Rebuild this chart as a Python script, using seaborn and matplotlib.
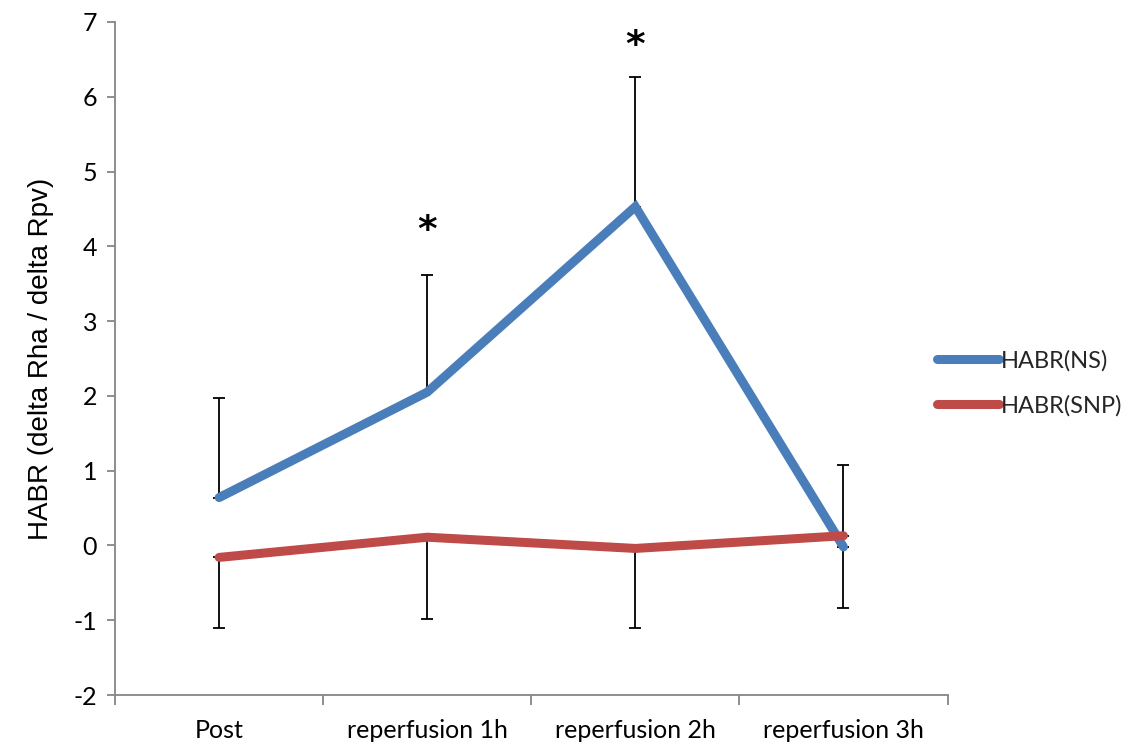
import pandas as pd
import seaborn as sns
import matplotlib.pyplot as plt
from matplotlib.ticker import FixedLocator

# data
times = ["Post", "reperfusion 1h", "reperfusion 2h", "reperfusion 3h"]
ns_mean = [0.64, 2.05, 4.53, -0.02]
ns_err = [1.33, 1.56, 1.73, 1.10]
snp_mean = [-0.16, 0.11, -0.04, 0.13]
snp_err = [0.94, 1.10, 1.06, 0.97]
star_pos = [1, 2]          # which time points get a *
star_y = [4.2, 6.68]

blue = "#4A7EBB"
red = "#BE4B48"
axis_grey = "#868686"

df = pd.DataFrame({
    "time": times * 2,
    "value": ns_mean + snp_mean,
    "series": ["HABR(NS)"] * 4 + ["HABR(SNP)"] * 4,
})

sns.set_style("white")
plt.rcParams["font.family"] = ["Lato", "DejaVu Sans"]
plt.rcParams["axes.unicode_minus"] = False

fig = plt.figure(figsize=(11.28, 7.47), dpi=100)
ax = fig.add_axes([0.102, 0.0696, 0.738, 0.901])

# error bars first so the thick lines sit on top
ax.errorbar(range(4), ns_mean, yerr=[[0] * 4, ns_err], fmt="none",
            ecolor="black", elinewidth=1.3, capsize=4, capthick=1.3, zorder=1)
ax.errorbar(range(4), snp_mean, yerr=[snp_err, [0] * 4], fmt="none",
            ecolor="black", elinewidth=1.3, capsize=4, capthick=1.3, zorder=1)

sns.lineplot(data=df, x="time", y="value", hue="series", sort=False,
             palette=[blue, red], linewidth=6.5, ax=ax, zorder=3,
             solid_capstyle="round", solid_joinstyle="miter")

for p, y in zip(star_pos, star_y):
    ax.text(p, y, "*", ha="center", va="center", fontsize=27,
            fontweight="bold", family="DejaVu Sans", color="black")

ax.set_ylim(-2, 7)
ax.set_xlim(-0.5, 3.5)
ax.set_yticks(range(-2, 8))
ax.set_xticks(range(4))
ax.set_xticklabels(times)
ax.xaxis.set_minor_locator(FixedLocator([-0.5, 0.5, 1.5, 2.5, 3.5]))
ax.tick_params(axis="x", which="major", length=0, pad=17, labelsize=18, labelcolor="black")
ax.tick_params(axis="x", which="minor", length=7, width=1.3, color=axis_grey, direction="out")
ax.tick_params(axis="y", length=6, width=1.3, color=axis_grey, direction="out",
               labelsize=18, labelcolor="black", pad=7)
ax.tick_params(bottom=True, left=True)
ax.xaxis.set_tick_params(which="minor", bottom=True)

for s in ["top", "right"]:
    ax.spines[s].set_visible(False)
for s in ["left", "bottom"]:
    ax.spines[s].set_color(axis_grey)
    ax.spines[s].set_linewidth(1.3)

ax.set_xlabel("")
ax.set_ylabel("HABR (delta Rha / delta Rpv)", fontsize=20, color="black",
              family="Liberation Sans", labelpad=14)

handles, labels = ax.get_legend_handles_labels()
ax.legend_.remove()
fig.legend(handles, labels, loc="center left", bbox_to_anchor=(0.831, 0.487),
           frameon=False, fontsize=17, handlelength=2.6, handletextpad=0.08,
           labelspacing=1.0, borderpad=0, borderaxespad=0)

fig.savefig("out.png", dpi=100)
